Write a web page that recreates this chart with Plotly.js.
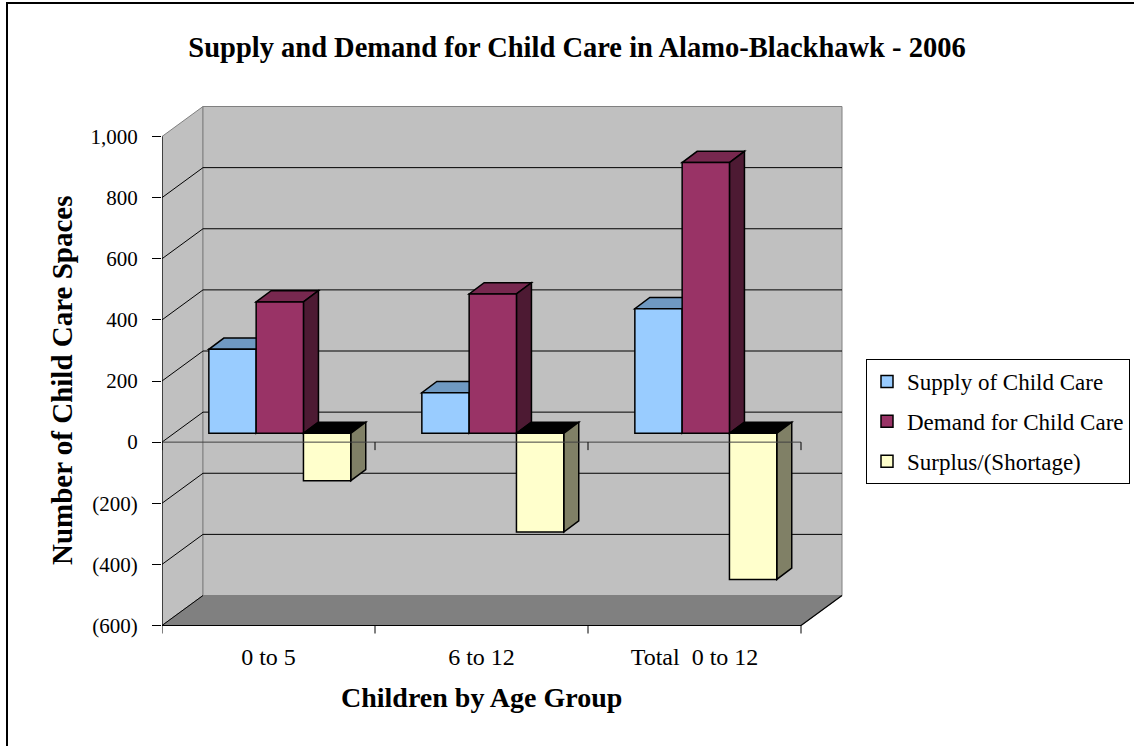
<!DOCTYPE html>
<html>
<head>
<meta charset="utf-8">
<script src="https://cdn.plot.ly/plotly-3.0.1.min.js"></script>
<style>html,body{margin:0;padding:0;background:#fff;}#chart{width:1134px;height:746px;}</style>
</head>
<body>
<div id="chart"></div>
<script>
// ---------- data ----------
const categories = ['0 to 5', '6 to 12', 'Total  0 to 12'];
const seriesNames = ['Supply of Child Care', 'Demand for Child Care', 'Surplus/(Shortage)'];
const supply = [275, 133, 408];
const demand = [430, 456, 886];
const surplus = [-155, -323, -478];
const yTickVals = [-600, -400, -200, 0, 200, 400, 600, 800, 1000];
const yTickText = ['(600)', '(400)', '(200)', '0', '200', '400', '600', '800', '1,000'];
const chartTitle = 'Supply and Demand for Child Care in Alamo-Blackhawk - 2006';
const xTitle = 'Children by Age Group';
const yTitle = 'Number of Child Care Spaces';

// ---------- styles ----------
const frontColors = ['#99CCFF', '#993366', '#FFFFCC'];
const topColors = ['#6F99C2', '#77284F', '#000000'];
const sideColors = ['#4C6680', '#4D1A33', '#808066'];
const FONT = 'Liberation Serif, Times New Roman, serif';

// ---------- projection constants (data units) ----------
const PL = 162, PR = 850, PT = 100, PB = 640;       // plot area in px
const pxPerUnitY = 0.305625, pxPerCat = 213;
const yMin = -600 - (PB - 625.5) / pxPerUnitY;
const yMax = -600 + (625.5 - PT) / pxPerUnitY;
const xMin = -0.5, xMax = -0.5 + (PR - PL) / pxPerCat;
const Dx = 41 / pxPerCat, Dy = 30 / pxPerUnitY;     // wall depth
const dxF = 11.3 / pxPerCat, baseF = 8.8 / pxPerUnitY; // bar front plane
const ddx = 15 / pxPerCat, ddy = 11.2 / pxPerUnitY;   // bar depth
const W = 47.3 / pxPerCat;                            // bar width
const x0 = -0.5, x1 = categories.length - 0.5;
const yLo = yTickVals[0], yHi = yTickVals[yTickVals.length - 1];

const series = [supply, demand, surplus];
const xs = categories.map((c, i) => i);

function poly(pts, fill, lineColor, lw, layer) {
  return {
    type: 'path', xref: 'x', yref: 'y', layer: layer || 'below',
    path: 'M' + pts.map(p => p[0] + ',' + p[1]).join(' L') + ' Z',
    fillcolor: fill, line: {color: lineColor, width: lw}
  };
}
function seg(xa, ya, xb, yb, color, w, layer) {
  return {type: 'line', xref: 'x', yref: 'y', layer: layer || 'below',
    x0: xa, y0: ya, x1: xb, y1: yb, line: {color: color, width: w}};
}

const shapes = [];
// side wall, back wall, floor
shapes.push(poly([[x0, yLo], [x0, yHi], [x0 + Dx, yHi + Dy], [x0 + Dx, yLo + Dy]], '#C0C0C0', '#808080', 1));
shapes.push(poly([[x0 + Dx, yLo + Dy], [x0 + Dx, yHi + Dy], [x1 + Dx, yHi + Dy], [x1 + Dx, yLo + Dy]], '#C0C0C0', '#808080', 1));
shapes.push(poly([[x0, yLo], [x0 + Dx, yLo + Dy], [x1 + Dx, yLo + Dy], [x1, yLo]], '#808080', '#808080', 1));
// gridlines on walls
yTickVals.slice(1, -1).forEach(v => {
  shapes.push(seg(x0 + Dx, v + Dy, x1 + Dx, v + Dy, '#000000', 1));
  shapes.push(seg(x0, v, x0 + Dx, v + Dy, '#000000', 1));
});
shapes.push(seg(x0, yLo, x0 + Dx, yLo + Dy, '#000000', 1));
// bar top and side faces
xs.forEach((xc, ci) => {
  series.forEach((vals, si) => {
    const l = xc + dxF - 1.5 * W + si * W, r = l + W;
    const v = vals[ci];
    const top = Math.max(baseF, baseF + v), bot = Math.min(baseF, baseF + v);
    shapes.push(poly([[l, top], [r, top], [r + ddx, top + ddy], [l + ddx, top + ddy]], topColors[si], '#000000', 1.5));
    shapes.push(poly([[r, bot], [r, top], [r + ddx, top + ddy], [r + ddx, bot + ddy]], sideColors[si], '#000000', 1.5));
  });
});
// front axes (above)
shapes.push(seg(x0, 0, x1, 0, '#404040', 1, 'above'));
shapes.push(seg(x0, yLo, x0, yHi, '#000000', 1.2, 'above'));
shapes.push(seg(x0, yLo, x1, yLo, '#000000', 1.2, 'above'));
shapes.push(seg(x1, yLo, x1 + Dx, yLo + Dy, '#000000', 1.2, 'above'));
const tickLen = 8 / pxPerUnitY;
for (let k = 0; k <= categories.length; k++) {
  const xb = x0 + k;
  shapes.push(seg(xb, 0, xb, -tickLen, '#000000', 1, 'above'));
  shapes.push(seg(xb, yLo, xb, yLo - tickLen, '#000000', 1, 'above'));
}
// outer border (left and top visible)
const pxX = px => (px - PL) / (PR - PL), pxY = py => (PB - py) / (PB - PT);
shapes.push({type: 'rect', xref: 'paper', yref: 'paper', layer: 'above',
  x0: pxX(7), x1: pxX(1160), y0: pxY(770), y1: pxY(3), line: {color: '#000000', width: 2}, fillcolor: 'rgba(0,0,0,0)'});

const traces = series.map((vals, si) => ({
  type: 'bar', name: seriesNames[si], x: xs, y: vals, base: baseF,
  width: W, offset: dxF - 1.5 * W + si * W, legendgroup: 'g' + si,
  marker: {color: frontColors[si], line: {color: '#000000', width: 1.5}},
  hoverinfo: 'skip'
}));

const layout = {
  width: 1134, height: 746,
  margin: {l: PL, r: 1134 - PR, t: PT, b: 746 - PB, pad: 0, autoexpand: false},
  paper_bgcolor: '#FFFFFF', plot_bgcolor: 'rgba(0,0,0,0)',
  barmode: 'overlay', showlegend: true, hovermode: false,
  font: {family: FONT, color: '#000000', size: 20},
  title: {text: '<b>' + chartTitle + '</b>', x: 577 / 1134, xanchor: 'center', xref: 'container',
    y: 1 - 47 / 746, yanchor: 'middle', yref: 'container', font: {family: FONT, size: 28.5, color: '#000'}},
  xaxis: {range: [xMin, xMax], showgrid: false, zeroline: false, showline: false,
    tickvals: xs, ticktext: categories, ticks: '', ticklabelstandoff: 0,
    tickfont: {family: FONT, size: 24, color: '#000'}, fixedrange: true},
  yaxis: {range: [yMin, yMax], showgrid: false, zeroline: false, showline: false,
    tickvals: yTickVals, ticktext: yTickText, ticks: 'outside', ticklen: 9, tickwidth: 1, tickcolor: '#000',
    ticklabelstandoff: 10, tickfont: {family: FONT, size: 21, color: '#000'}, fixedrange: true},
  legend: {x: pxX(866), y: pxY(359), xanchor: 'left', yanchor: 'top',
    bordercolor: '#000000', borderwidth: 1, bgcolor: '#FFFFFF',
    font: {family: FONT, size: 23, color: '#000'}, tracegroupgap: 7, traceorder: 'grouped'},
  annotations: [
    {text: '<b>' + yTitle + '</b>', textangle: -90, xref: 'paper', yref: 'paper',
      x: pxX(62), y: pxY(380), xanchor: 'center', yanchor: 'middle', showarrow: false,
      font: {family: FONT, size: 29, color: '#000'}},
    {text: '<b>' + xTitle + '</b>', xref: 'x', yref: 'paper',
      x: 1, y: pxY(697), xanchor: 'center', yanchor: 'middle', showarrow: false,
      font: {family: FONT, size: 28, color: '#000'}}
  ],
  shapes: shapes
};

Plotly.newPlot('chart', traces, layout, {displayModeBar: false, staticPlot: true});
</script>
</body>
</html>
